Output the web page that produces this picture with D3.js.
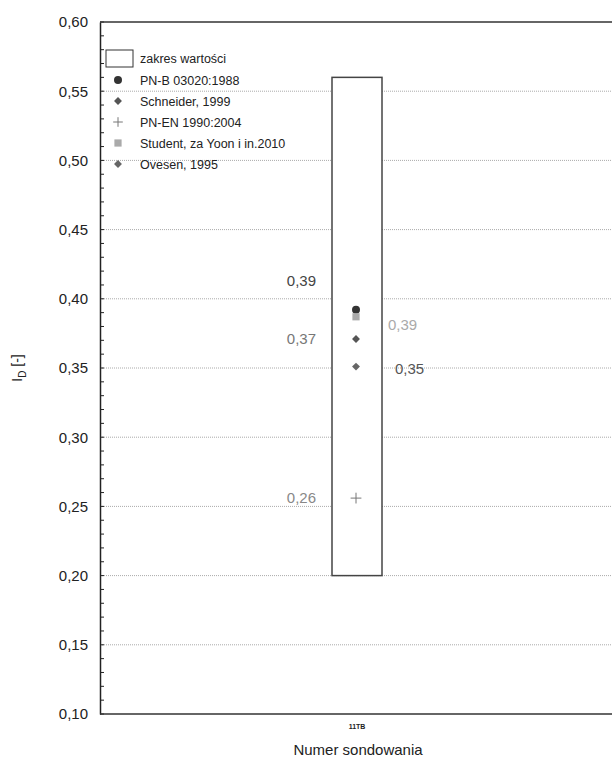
<!DOCTYPE html>
<html>
<head>
<meta charset="utf-8">
<script src="https://cdnjs.cloudflare.com/ajax/libs/d3/7.8.5/d3.min.js"></script>
<style>
  body { margin: 0; background: #fff; }
  svg { display: block; font-family: "Liberation Sans", Arial, sans-serif; }
</style>
</head>
<body>
<div id="graph"></div>
<script>
//Data
const categories = ["11TB"];
const rangeLow = [0.20];
const rangeHigh = [0.56];
const seriesNames = ["PN-B 03020:1988", "Schneider, 1999", "PN-EN 1990:2004", "Student, za Yoon i in.2010", "Ovesen, 1995"];
const seriesValues = [0.392, 0.371, 0.256, 0.387, 0.351];
const seriesLabels = ["0,39", "0,37", "0,26", "0,39", "0,35"];
const yTicks = [0.10, 0.15, 0.20, 0.25, 0.30, 0.35, 0.40, 0.45, 0.50, 0.55, 0.60];

//Styles per series: circle, diamond, plus, square, diamond
const shapes = ["circle", "diamond", "plus", "square", "diamond"];
const colors = ["#333", "#555", "#777", "#aaa", "#666"];
const labelColors = ["#444", "#777", "#888", "#aaa", "#555"];
const labelSide = [-1, -1, -1, 1, 1];
const labelDy = [-29, 0, 0, 8, 2];

//Display specifications
const margin = {top: 22, right: -2, bottom: 53, left: 100};
const W = 612, H = 767;
const width = W - margin.left - margin.right;
const height = H - margin.top - margin.bottom;

const svg = d3.select("#graph").append("svg")
    .attr("width", W).attr("height", H);
const g = svg.append("g")
    .attr("transform", "translate(" + margin.left + "," + margin.top + ")");

//Scales
const y = d3.scaleLinear().domain([0.10, 0.60]).range([height, 0]);
const x = d3.scalePoint().domain(categories).range([0, width]).padding(0.5);
const fmt = v => d3.format(".2f")(v).replace(".", ",");

//Marker drawing
function marker(sel, shape, color, s) {
  if (shape === "circle") {
    sel.append("circle").attr("r", s * 0.5).attr("fill", color);
  } else if (shape === "square") {
    sel.append("rect").attr("x", -s * 0.45).attr("y", -s * 0.45)
      .attr("width", s * 0.9).attr("height", s * 0.9).attr("fill", color);
  } else if (shape === "diamond") {
    sel.append("rect").attr("x", -s * 0.35).attr("y", -s * 0.35)
      .attr("width", s * 0.7).attr("height", s * 0.7).attr("fill", color)
      .attr("transform", "rotate(45)");
  } else {
    sel.append("path").attr("d", "M" + (-s * 0.6) + ",0H" + (s * 0.6) + "M0," + (-s * 0.6) + "V" + (s * 0.6))
      .attr("stroke", color).attr("stroke-width", 1).attr("fill", "none");
  }
}

//Grid
g.append("g").selectAll("line")
  .data(yTicks.filter(t => t > 0.1 && t < 0.6))
  .enter().append("line")
  .attr("x1", 0).attr("x2", width)
  .attr("y1", d => y(d)).attr("y2", d => y(d))
  .attr("stroke", "#aaa").attr("stroke-width", 1)
  .attr("stroke-dasharray", "1,1");

//Minor ticks
const minor = d3.range(0.10, 0.6001, 0.01);
g.append("g").selectAll("line")
  .data(minor)
  .enter().append("line")
  .attr("x1", 0).attr("x2", 4)
  .attr("y1", d => y(d)).attr("y2", d => y(d))
  .attr("stroke", "#222");

//Y axis
const yAxis = g.append("g")
  .call(d3.axisLeft(y).tickValues(yTicks).tickFormat(fmt).tickSize(0).tickPadding(12));
yAxis.select(".domain").attr("stroke", "#222").attr("stroke-width", 1.5);
yAxis.selectAll("text").attr("font-size", 15).attr("fill", "#222");

//Frame top and bottom
g.append("line").attr("x1", 0).attr("x2", width).attr("y1", 0).attr("y2", 0)
  .attr("stroke", "#333").attr("stroke-width", 1.5);
g.append("line").attr("x1", 0).attr("x2", width).attr("y1", height).attr("y2", height)
  .attr("stroke", "#333").attr("stroke-width", 1.5);

//Category label
g.append("text")
  .attr("x", x(categories[0])).attr("y", height + 15)
  .attr("text-anchor", "middle").attr("font-size", 7).attr("font-weight", "bold")
  .attr("fill", "#222").text(categories[0]);

//Axis titles
svg.append("text")
  .attr("x", 358).attr("y", H - 12)
  .attr("text-anchor", "middle").attr("font-size", 15).attr("fill", "#222")
  .text("Numer sondowania");

const yl = svg.append("text")
  .attr("transform", "translate(22," + (margin.top + y(0.35)) + ") rotate(-90)")
  .attr("text-anchor", "middle").attr("font-size", 14).attr("fill", "#222");
yl.append("tspan").text("I");
yl.append("tspan").attr("font-size", 10).attr("dy", 4).text("D");
yl.append("tspan").attr("dy", -4).text(" [-]");

//Range box
const bw = 50;
g.selectAll(".range")
  .data(categories)
  .enter().append("rect")
  .attr("class", "range")
  .attr("x", d => x(d) - bw / 2)
  .attr("y", (d, i) => y(rangeHigh[i]))
  .attr("width", bw)
  .attr("height", (d, i) => y(rangeLow[i]) - y(rangeHigh[i]))
  .attr("fill", "#fff").attr("stroke", "#444").attr("stroke-width", 1.5);

//Points
const cx = x(categories[0]) - 1;
seriesValues.forEach(function (v, i) {
  const p = g.append("g").attr("transform", "translate(" + cx + "," + y(v) + ")");
  marker(p, shapes[i], colors[i], i === 2 ? 9 : 8);
});

//Value labels
seriesValues.forEach(function (v, i) {
  g.append("text")
    .attr("x", labelSide[i] < 0 ? cx - 40 : cx + (i === 4 ? 39 : 32))
    .attr("y", y(v) + labelDy[i] + 5)
    .attr("text-anchor", labelSide[i] < 0 ? "end" : "start")
    .attr("font-size", 15)
    .attr("fill", labelColors[i])
    .text(seriesLabels[i]);
});

//Legend
const lg = svg.append("g").attr("transform", "translate(106,50)");
lg.append("rect").attr("x", 0).attr("y", 0).attr("width", 27).attr("height", 17)
  .attr("fill", "#fff").attr("stroke", "#333");
lg.append("text").attr("x", 34).attr("y", 13).attr("font-size", 12.5).attr("fill", "#222")
  .text("zakres wartości");
seriesNames.forEach(function (n, i) {
  const yy = 30 + i * 21;
  const p = lg.append("g").attr("transform", "translate(12," + yy + ")");
  marker(p, shapes[i], colors[i], 8);
  lg.append("text").attr("x", 34).attr("y", yy + 4.5).attr("font-size", 12.5).attr("fill", "#222")
    .text(n);
});
</script>
</body>
</html>
